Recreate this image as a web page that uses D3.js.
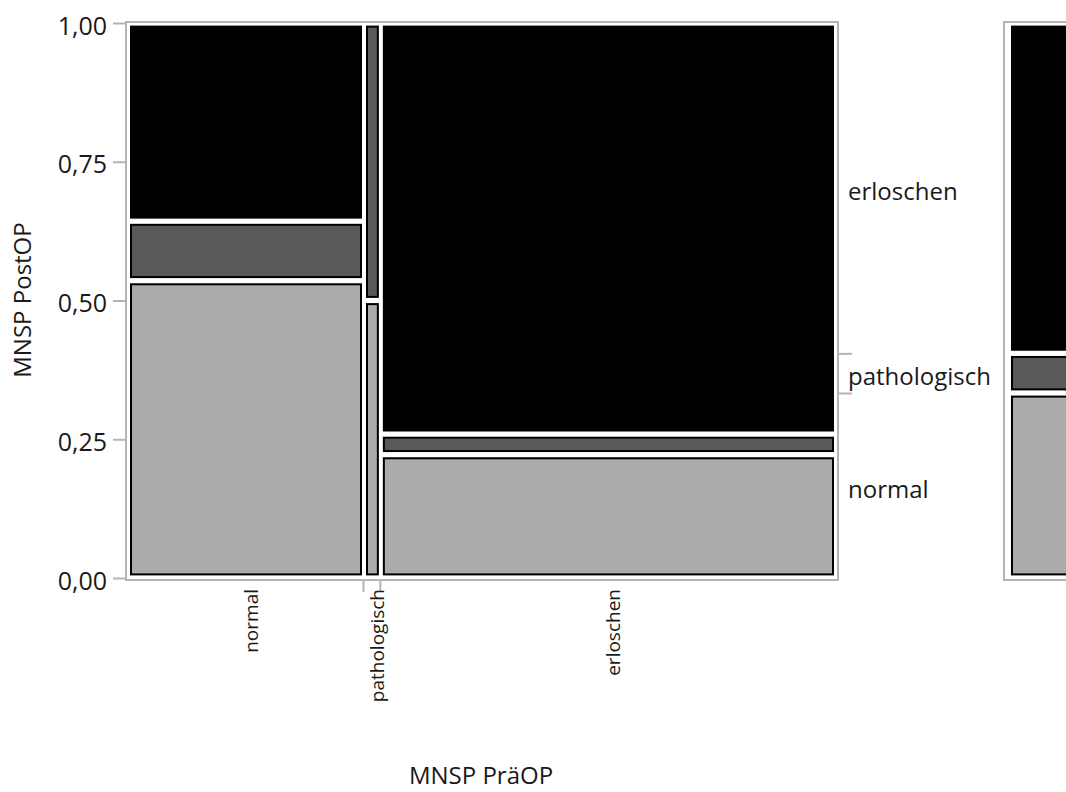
<!DOCTYPE html>
<html><head><meta charset="utf-8">
<script src="https://cdn.jsdelivr.net/npm/d3@7"></script>
<style>
body{margin:0;background:#fff}
svg text{font-family:"Open Sans",sans-serif;fill:#1a1a1a}
</style>
</head><body>
<svg id="c" width="1066" height="792"></svg>
<script>
// MNSP PräOP categories (x) and MNSP PostOP categories (stacked, bottom to top)
const preCategories = ["normal", "pathologisch", "erloschen"];
const postCategories = ["normal", "pathologisch", "erloschen"];
// counts of PostOP [normal, pathologisch, erloschen] per PräOP category
const countsPreNormal = [15, 3, 10];
const countsPrePathologisch = [1, 1, 0];
const countsPreErloschen = [12, 2, 40];
const yTicks = [0, 0.25, 0.5, 0.75, 1];
const tileColors = ["#ababab", "#595959", "#000000"];

const columns = [countsPreNormal, countsPrePathologisch, countsPreErloschen];
const total = d3.sum(columns, c => d3.sum(c));
const marginal = postCategories.map((_, i) => d3.sum(columns, c => c[i]));

const svg = d3.select("#c");
const frameCol = "#b4b4b4";
const x = d3.scaleLinear().domain([0, 1]).range([128, 836]);
const y = d3.scaleLinear().domain([0, 1]).range([578, 23]);
const hIn = 2, vIn = 2.6;

// frame
svg.append("rect").attr("x", 126).attr("y", 22).attr("width", 712).attr("height", 558)
  .attr("fill", "none").attr("stroke", frameCol).attr("stroke-width", 2);

// tiles
let cx = 0;
const colBounds = [];
columns.forEach((col, ci) => {
  const colTot = d3.sum(col);
  const c0 = cx, c1 = cx + colTot / total;
  colBounds.push([c0, c1]);
  let cy = 0;
  col.forEach((v, ri) => {
    const f0 = cy, f1 = cy + v / colTot;
    cy = f1;
    if (v === 0) return;
    const X0 = x(c0) + hIn, X1 = x(c1) - hIn;
    const Y0 = y(f1) + vIn, Y1 = y(f0) - vIn;
    svg.append("rect")
      .attr("x", X0 + 1).attr("y", Y0 + 1)
      .attr("width", X1 - X0 - 2).attr("height", Y1 - Y0 - 2)
      .attr("fill", tileColors[ri]).attr("stroke", "#000").attr("stroke-width", 2);
  });
  cx = c1;
});

// left axis
const fmt = d => d3.format(".2f")(d).replace(".", ",");
const ay = svg.append("g").attr("transform", "translate(126,0)")
  .call(d3.axisLeft(y).tickValues(yTicks).tickFormat(fmt).tickSize(13).tickPadding(6));
ay.select(".domain").remove();
ay.selectAll(".tick line").attr("stroke", frameCol).attr("stroke-width", 2);
ay.selectAll(".tick text").attr("font-size", 25).attr("dy", 11).attr("fill", "#1a1a1a")
  .style("font-family", '"Open Sans",sans-serif');

// bottom axis ticks at column boundaries
const xb = svg.append("g").attr("transform", "translate(-1,580)")
  .call(d3.axisBottom(x).tickValues(colBounds.slice(0, -1).map(b => b[1])).tickFormat("").tickSize(12));
xb.select(".domain").remove();
xb.selectAll(".tick line").attr("stroke", frameCol).attr("stroke-width", 2);

// bottom labels (rotated)
svg.append("clipPath").attr("id", "xclip").append("rect")
  .attr("x", 0).attr("y", 582).attr("width", 1066).attr("height", 126);
const xl = svg.append("g").attr("clip-path", "url(#xclip)");
preCategories.forEach((c, i) => {
  const mid = x((colBounds[i][0] + colBounds[i][1]) / 2) + 12;
  xl.append("text").attr("transform", `translate(${mid},589) rotate(-90)`)
    .attr("text-anchor", "end").attr("font-size", 19).text(c);
});

// right axis with marginal boundaries
let acc = 0;
const margB = [];
marginal.forEach(v => { margB.push([acc, acc + v / total]); acc += v / total; });
const ar = svg.append("g").attr("transform", "translate(838,0)")
  .call(d3.axisRight(y).tickValues(margB.slice(0, -1).map(b => b[1])).tickFormat("").tickSize(14));
ar.select(".domain").remove();
ar.selectAll(".tick line").attr("stroke", frameCol).attr("stroke-width", 2);
postCategories.forEach((c, i) => {
  svg.append("text").attr("x", 848).attr("y", y((margB[i][0] + margB[i][1]) / 2) + 12)
    .attr("font-size", 24).text(c);
});

// marginal bar panel
svg.append("rect").attr("x", 1004).attr("y", 22).attr("width", 140).attr("height", 558)
  .attr("fill", "none").attr("stroke", frameCol).attr("stroke-width", 2);
marginal.forEach((v, i) => {
  const X0 = 1011, X1 = 1120;
  const Y0 = y(margB[i][1]) + vIn, Y1 = y(margB[i][0]) - vIn;
  svg.append("rect").attr("x", X0 + 1).attr("y", Y0 + 1)
    .attr("width", X1 - X0 - 2).attr("height", Y1 - Y0 - 2)
    .attr("fill", tileColors[i]).attr("stroke", "#000").attr("stroke-width", 2);
});

// axis titles
svg.append("text").attr("transform", "translate(31,300) rotate(-90)")
  .attr("text-anchor", "middle").attr("font-size", 24).text("MNSP PostOP");
svg.append("text").attr("x", 481).attr("y", 784)
  .attr("text-anchor", "middle").attr("font-size", 24).text("MNSP PräOP");
</script>
</body></html>
